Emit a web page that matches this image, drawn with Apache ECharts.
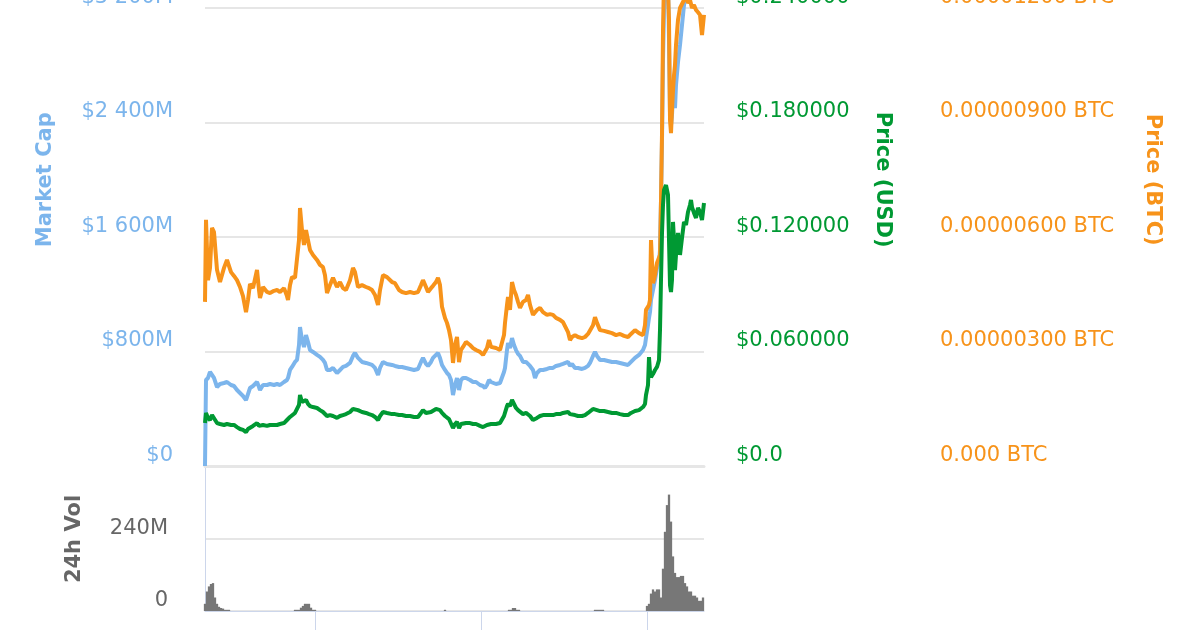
<!DOCTYPE html>
<html>
<head>
<meta charset="utf-8">
<script src="https://cdn.jsdelivr.net/npm/echarts@6/dist/echarts.min.js"></script>
<style>
html,body{margin:0;padding:0;background:#fff;overflow:hidden;width:1200px;height:630px;}
#wrap{position:relative;width:1200px;height:630px;overflow:hidden;}
#chart{position:absolute;left:0;top:-120px;width:1200px;height:750px;}
</style>
</head>
<body>
<div id="wrap"><div id="chart"></div></div>
<script>
// time index of each sample (common to the three price/cap lines)
const timeIdx = [0,1,3,5,7,9,12,15,19,22,26,29,32,35,38,41,43,45,48,52,54,55,58,62,65,69,72,75,79,82,83,85,87,90,92,94,95,97,99,101,103,105,108,112,115,118,120,122,125,128,132,135,138,141,145,148,150,153,157,161,164,167,170,173,175,178,182,187,190,194,197,201,205,209,213,216,218,221,223,226,228,231,233,235,237,240,242,244,246,248,250,252,254,256,258,261,263,265,268,271,275,278,280,282,284,286,288,291,293,295,297,299,300,302,303,305,307,309,311,313,315,318,321,323,325,328,330,332,335,338,342,345,348,351,355,358,360,363,365,367,370,373,377,380,383,385,388,390,392,395,399,403,407,411,415,419,423,426,430,434,438,440,441,443,444,445,446,448,450,452,454,455,456,457,458,459,461,463,464,465,466,467,468,469,470,471,473,475,477,479,481,483,485,486,487,489,491,493,495,497,499];

// Market cap, millions of USD
const marketCapM = [
0,601,615,657,657,615,552,573,580,587,
566,559,531,510,489,461,503,545,559,587,
552,531,566,566,573,566,573,566,587,601,
615,671,692,727,741,845,971,880,831,915,
866,810,797,776,762,741,720,671,671,685,
650,671,692,699,720,769,790,755,727,720,
713,706,685,636,685,727,713,706,699,692,
692,685,678,671,678,727,755,713,699,727,
755,776,790,755,706,671,650,636,601,496,
566,615,531,601,615,615,615,601,587,587,
566,559,545,566,601,587,587,573,580,580,
587,657,685,810,859,824,894,845,810,783,
769,727,727,713,699,671,615,650,671,671,
678,685,685,699,706,713,720,727,699,713,
685,685,678,685,699,720,769,797,769,741,
741,734,727,727,720,713,706,727,755,776,
810,845,894,985,1034,1076,1160,1230,1300,1383,
1425,1509,1859,2278,2837,3186,3535,3396,2976,2452,
2383,2452,2592,2557,2501,2662,2823,2942,3081,3221,
3291,3361,3431,3466,3396,3340,3291,3396,3361,3291,
3431];

// Price in USD
const priceUsd = [
0.0225,0.0278,0.0252,0.0241,0.0267,0.0257,0.0225,0.0220,0.0215,0.0220,
0.0215,0.0215,0.0204,0.0194,0.0189,0.0178,0.0194,0.0204,0.0210,0.0225,
0.0210,0.0204,0.0215,0.0210,0.0215,0.0215,0.0215,0.0220,0.0225,0.0241,
0.0246,0.0257,0.0267,0.0278,0.0288,0.0320,0.0372,0.0335,0.0325,0.0346,
0.0325,0.0314,0.0309,0.0304,0.0293,0.0283,0.0278,0.0262,0.0267,0.0262,
0.0252,0.0262,0.0267,0.0272,0.0283,0.0299,0.0304,0.0293,0.0283,0.0278,
0.0272,0.0267,0.0257,0.0241,0.0262,0.0283,0.0278,0.0272,0.0272,0.0267,
0.0267,0.0262,0.0262,0.0257,0.0257,0.0278,0.0293,0.0278,0.0272,0.0283,
0.0293,0.0299,0.0304,0.0293,0.0278,0.0262,0.0252,0.0246,0.0236,0.0199,
0.0220,0.0231,0.0199,0.0220,0.0225,0.0225,0.0231,0.0225,0.0220,0.0220,
0.0210,0.0204,0.0204,0.0215,0.0220,0.0220,0.0220,0.0220,0.0225,0.0225,
0.0231,0.0262,0.0272,0.0314,0.0325,0.0314,0.0346,0.0325,0.0304,0.0293,
0.0283,0.0272,0.0278,0.0272,0.0262,0.0241,0.0241,0.0252,0.0262,0.0267,
0.0267,0.0267,0.0267,0.0272,0.0272,0.0278,0.0278,0.0283,0.0272,0.0272,
0.0267,0.0262,0.0262,0.0267,0.0278,0.0283,0.0299,0.0309,0.0293,0.0288,
0.0288,0.0283,0.0278,0.0278,0.0272,0.0267,0.0267,0.0278,0.0288,0.0293,
0.0309,0.0325,0.0372,0.0424,0.0571,0.0493,0.0466,0.0482,0.0503,0.0519,
0.0555,0.0713,0.0975,0.1221,0.1368,0.1446,0.1472,0.1420,0.1184,0.0948,
0.0912,0.0975,0.1279,0.1184,0.1027,0.1106,0.1221,0.1106,0.1195,0.1279,
0.1263,0.1331,0.1368,0.1394,0.1357,0.1326,0.1300,0.1352,0.1331,0.1289,
0.1378];

// Price in BTC, expressed in micro-BTC (1e-6 BTC)
const priceMicroBtc = [
4.30,6.45,4.87,5.19,6.24,6.13,5.14,4.82,5.19,5.40,
5.08,4.98,4.87,4.69,4.45,4.03,4.35,4.77,4.66,5.14,
4.61,4.40,4.69,4.56,4.53,4.59,4.61,4.56,4.66,4.45,
4.35,4.74,4.95,4.93,4.93,5.92,6.76,6.18,5.79,6.18,
5.92,5.66,5.53,5.40,5.27,5.21,5.00,4.53,4.74,4.93,
4.69,4.82,4.66,4.61,4.87,5.19,5.08,4.69,4.74,4.69,
4.66,4.61,4.48,4.22,4.61,5.00,4.95,4.82,4.79,4.61,
4.56,4.53,4.56,4.53,4.56,4.74,4.87,4.69,4.56,4.66,
4.72,4.82,4.93,4.74,4.17,3.88,3.75,3.56,3.30,2.70,
3.17,3.38,2.72,3.04,3.12,3.25,3.30,3.17,3.09,3.04,
2.99,2.91,2.86,3.09,3.30,3.12,3.17,3.09,3.12,3.04,
2.99,3.43,3.75,4.22,4.43,4.09,4.82,4.61,4.48,4.30,
4.14,4.30,4.35,4.48,4.22,3.96,4.01,4.09,4.14,4.03,
3.96,3.98,3.96,3.88,3.83,3.77,3.75,3.51,3.30,3.38,
3.43,3.38,3.35,3.38,3.46,3.51,3.69,3.90,3.75,3.56,
3.54,3.51,3.48,3.43,3.46,3.41,3.38,3.46,3.56,3.48,
3.43,3.69,4.09,4.14,4.22,4.35,5.92,4.79,5.00,5.32,
5.34,5.53,6.97,8.72,11.42,12.73,13.00,12.47,11.69,9.07,
8.72,9.33,9.85,10.24,10.51,11.03,11.69,12.00,11.95,12.21,
12.34,12.13,12.21,12.16,12.00,12.08,11.95,11.89,11.82,11.29,
11.82];

// 24h volume (millions USD) — only the non-empty bars
const volTime = [0,2,4,6,8,10,12,14,16,18,20,22,24,
  90,92,94,96,98,100,102,104,106,108,110,
  240,
  304,306,308,310,312,314,
  390,392,394,396,398,
  442,444,446,448,450,452,454,456,458,460,462,464,466,468,470,472,474,476,478,480,482,484,486,488,490,492,494,496,498];
const vol24hM = [24,65,82,90,93,45,24,14,10,8,4,4,4,
  4,4,4,11,17,24,24,24,11,4,4,
  4,
  4,4,10,10,4,4,
  4,4,4,4,4,
  17,24,58,72,65,72,72,45,141,264,353,388,298,182,127,113,113,117,117,93,82,65,65,51,51,45,34,34,45];

// x-axis tick positions (month boundaries)
const monthTicks = [110, 276, 442];

const FONT = 'DejaVu Sans';
const C_CAP = '#7cb5ec', C_USD = '#009933', C_BTC = '#f7931a', C_VOL = '#777777';

const zip = (xs, ys) => xs.map((x, i) => [x, ys[i]]);
const fmtThousands = v => String(v).replace(/\B(?=(\d{3})+(?!\d))/g, ' ');

const labelBase = {fontFamily: FONT, fontSize: 21, verticalAlign: 'bottom', lineHeight: 21};
const nameBase = {fontFamily: FONT, fontSize: 21, fontWeight: 'bold'};

const chart = echarts.init(document.getElementById('chart'), null, {renderer: 'canvas'});
chart.setOption({
  animation: false,
  backgroundColor: '#ffffff',
  grid: [
    {left: 205, right: 496, top: 13.5, bottom: 164, outerBoundsMode: 'none', containLabel: false},
    {left: 205, right: 496, top: 587, bottom: 19, outerBoundsMode: 'none', containLabel: false}
  ],
  xAxis: [
    {type: 'value', gridIndex: 0, min: 0, max: 499,
     axisLine: {show: true, onZero: false, lineStyle: {color: '#e6e6e6', width: 3}},
     axisTick: {show: false}, axisLabel: {show: false}, splitLine: {show: false}},
    {type: 'value', gridIndex: 1, min: 0, max: 499,
     axisLine: {show: true, onZero: false, lineStyle: {color: '#ccd6eb', width: 1}},
     axisTick: {show: true, customValues: monthTicks, length: 20, lineStyle: {color: '#ccd6eb', width: 1}},
     axisLabel: {show: false}, splitLine: {show: false}}
  ],
  yAxis: [
    {type: 'value', gridIndex: 0, position: 'left', min: 0, max: 4000, interval: 800,
     axisLine: {show: false}, axisTick: {show: false},
     splitLine: {show: true, lineStyle: {color: '#e6e6e6', width: 2}},
     axisLabel: Object.assign({}, labelBase, {color: C_CAP, margin: 32,
       formatter: v => v === 0 ? '$0' : '$' + fmtThousands(v) + 'M'}),
     name: 'Market Cap', nameLocation: 'middle', nameGap: 149,
     nameTextStyle: Object.assign({}, nameBase, {color: C_CAP})},
    {type: 'value', gridIndex: 0, position: 'right', min: 0, max: 0.3, interval: 0.06,
     axisLine: {show: false}, axisTick: {show: false}, splitLine: {show: false},
     axisLabel: Object.assign({}, labelBase, {color: C_USD, margin: 32,
       formatter: v => v === 0 ? '$0.0' : '$' + v.toFixed(6)}),
     name: 'Price (USD)', nameLocation: 'middle', nameGap: 168, nameRotate: -90,
     nameTextStyle: Object.assign({}, nameBase, {color: C_USD})},
    {type: 'value', gridIndex: 0, position: 'right', offset: 204, min: 0, max: 15, interval: 3,
     axisLine: {show: false}, axisTick: {show: false}, splitLine: {show: false},
     axisLabel: Object.assign({}, labelBase, {color: C_BTC, margin: 32,
       formatter: v => v === 0 ? '0.000 BTC' : (v / 1e6).toFixed(8) + ' BTC'}),
     name: 'Price (BTC)', nameLocation: 'middle', nameGap: 234, nameRotate: -90,
     nameTextStyle: Object.assign({}, nameBase, {color: C_BTC})},
    {type: 'value', gridIndex: 1, position: 'left', offset: 6, min: 0, max: 480, interval: 240,
     axisLine: {show: true, lineStyle: {color: '#ccd6eb', width: 1}}, axisTick: {show: false},
     splitLine: {show: true, lineStyle: {color: '#e6e6e6', width: 2}},
     axisLabel: Object.assign({}, labelBase, {color: '#666666', margin: 31, showMaxLabel: false,
       formatter: v => v === 0 ? '0' : v + 'M'}),
     name: '24h Vol', nameLocation: 'middle', nameGap: 114,
     nameTextStyle: Object.assign({}, nameBase, {color: '#666666'})}
  ],
  series: [
    {type: 'line', name: 'Market Cap', xAxisIndex: 0, yAxisIndex: 0, data: zip(timeIdx, marketCapM),
     showSymbol: false, lineStyle: {color: C_CAP, width: 4}, itemStyle: {color: C_CAP}},
    {type: 'line', name: 'Price (BTC)', xAxisIndex: 0, yAxisIndex: 2, data: zip(timeIdx, priceMicroBtc),
     showSymbol: false, lineStyle: {color: C_BTC, width: 4}, itemStyle: {color: C_BTC}},
    {type: 'line', name: 'Price (USD)', xAxisIndex: 0, yAxisIndex: 1, data: zip(timeIdx, priceUsd),
     showSymbol: false, lineStyle: {color: C_USD, width: 4}, itemStyle: {color: C_USD}},
    {type: 'bar', name: '24h Vol', xAxisIndex: 1, yAxisIndex: 3, data: zip(volTime, vol24hM),
     barWidth: 2.3, clip: false, itemStyle: {color: C_VOL}}
  ]
});
</script>
</body>
</html>
